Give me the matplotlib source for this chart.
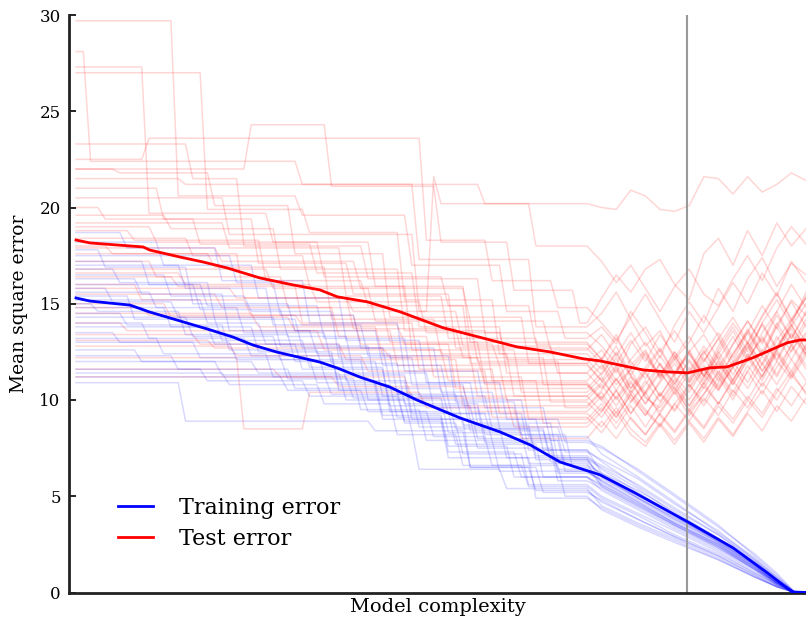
import matplotlib
matplotlib.use("Agg")
import matplotlib.pyplot as plt

plt.rcParams['font.family'] = ['DejaVu Serif']

# ---------------- data ----------------
# mean curves (x = model complexity step, y = mean square error)
train_mean_x = [0, 1.9, 7.4, 10.1, 15.2, 18.4, 21.5, 24.2, 27.5, 33.4, 35.8, 38.9, 43.0, 46.7,
                52.6, 58.1, 62.2, 66.3, 71.8, 76.3, 83.8, 90.0, 94.7, 98.1, 100]
train_mean_y = [15.30, 15.14, 14.93, 14.57, 14.00, 13.64, 13.27, 12.86, 12.49, 11.97, 11.66, 11.19,
                10.67, 10.00, 9.07, 8.34, 7.67, 6.78, 6.11, 5.23, 3.67, 2.32, 1.02, 0.03, 0.0]

test_mean_x = [0, 1.9, 9.2, 10.1, 14.2, 17.4, 20.7, 25.2, 29.7, 33.4, 35.8, 39.9, 44.4, 50.3,
               55.1, 60.4, 64.9, 69.5, 71.8, 77.7, 81.0, 83.8, 86.8, 89.2, 92.7, 97.4, 99.2, 100]
test_mean_y = [18.31, 18.16, 17.95, 17.79, 17.43, 17.17, 16.86, 16.34, 15.98, 15.72, 15.36, 15.10,
               14.58, 13.75, 13.28, 12.76, 12.50, 12.14, 12.03, 11.56, 11.46, 11.41, 11.67, 11.72,
               12.19, 12.97, 13.12, 13.12]

best_complexity = 83.7

# individual simulation runs: start level, (step, new level) changes, tail values
train_start = [18.7, 18.2, 17.8, 17.5, 17.2, 17.0, 16.8, 16.5, 16.3, 16.0, 15.8, 15.6, 15.4, 15.2,
               15.0, 14.8, 14.5, 14.3, 14.0, 13.8, 13.5, 13.2, 13.0, 12.6, 12.3, 12.0, 11.6, 11.2,
               10.9, 11.4]
train_steps = [
    [(6, 17.9), (19, 16.2), (31, 14.0), (44, 11.5), (55, 9.6), (64, 7.9)],
    [(11, 17.0), (24, 15.3), (36, 13.1), (47, 10.9), (58, 9.0), (66, 7.8)],
    [(3, 16.9), (15, 15.0), (29, 13.6), (41, 11.8), (50, 10.0), (61, 8.1)],
    [(21, 16.1), (27, 14.4), (38, 12.7), (49, 10.4), (57, 8.6), (66, 7.3)],
    [(9, 16.0), (17, 14.9), (33, 13.2), (45, 10.8), (53, 9.0), (63, 7.4)],
    [(14, 15.8), (26, 13.9), (39, 12.3), (51, 9.9), (60, 8.2), (66, 6.6)],
    [(5, 16.1), (18, 14.2), (30, 12.7), (42, 10.9), (54, 8.8), (65, 6.9)],
    [(12, 15.4), (23, 14.6), (35, 12.2), (46, 10.2), (56, 8.5), (64, 7.0)],
    [(8, 15.5), (20, 13.6), (32, 12.4), (43, 10.3), (52, 8.7), (62, 7.1)],
    [(16, 14.7), (28, 13.3), (37, 11.4), (48, 9.6), (55, 7.8), (65, 6.2)],
    [(4, 15.1), (13, 14.3), (27, 12.8), (40, 10.6), (50, 9.3), (61, 7.4)],
    [(10, 14.8), (22, 13.5), (34, 11.9), (44, 9.8), (55, 8.2), (67, 6.5)],
    [(7, 14.2), (19, 13.1), (31, 11.7), (42, 9.4), (51, 7.7), (63, 6.0)],
    [(17, 14.0), (25, 12.9), (36, 11.0), (45, 9.0), (54, 7.5), (65, 5.8)],
    [(2, 14.6), (14, 13.4), (29, 12.0), (41, 10.2), (53, 8.4), (64, 6.8)],
    [(12, 13.8), (24, 12.5), (35, 10.5), (44, 8.8), (52, 7.2), (61, 5.6)],
    [(6, 13.9), (20, 12.6), (33, 11.3), (45, 9.3), (56, 7.9), (66, 6.3)],
    [(15, 13.3), (27, 12.1), (39, 10.0), (51, 8.5), (62, 6.9)],
    [(9, 13.2), (23, 12.3), (35, 10.8), (43, 9.1), (50, 7.3), (60, 6.0)],
    [(18, 12.9), (30, 11.6), (42, 9.7), (54, 8.0), (65, 6.4)],
    [(5, 13.0), (16, 12.2), (28, 11.1), (38, 9.5), (47, 7.9), (57, 6.3)],
    [(11, 12.4), (26, 11.2), (37, 10.1), (50, 8.3), (61, 6.7)],
    [(21, 12.1), (32, 10.9), (41, 9.2), (50, 7.6), (59, 6.0)],
    [(8, 12.0), (19, 11.3), (34, 10.3), (46, 8.6), (58, 7.0)],
    [(13, 11.6), (29, 10.6), (41, 9.0), (53, 6.5), (63, 5.2)],
    [(24, 11.4), (36, 10.0), (45, 8.4), (53, 6.5), (62, 5.3)],
    [(17, 11.0), (31, 10.2), (44, 8.9), (50, 7.0), (62, 4.9)],
    [(28, 10.5), (39, 9.4), (48, 8.1), (56, 6.6), (66, 5.0)],
    [(14, 8.9), (40, 8.4), (46, 6.4), (58, 5.4)],
    [(20, 10.8), (33, 9.8), (43, 8.2), (52, 6.6), (61, 5.5)],
]
train_tail_start = 70
train_tail_x = [72, 77, 82, 88, 93, 96, 98.5, 100]
train_tail = [
    [7.6, 6.3, 5.0, 3.4, 2.0, 1.0, 0, 0],
    [7.5, 6.4, 5.1, 3.5, 1.9, 0.9, 0, 0],
    [7.2, 6.0, 4.7, 3.1, 1.8, 0.8, 0, 0],
    [6.9, 5.9, 4.6, 3.2, 1.7, 0.8, 0, 0],
    [6.8, 5.5, 4.3, 3.0, 1.6, 0.7, 0, 0],
    [6.2, 5.3, 4.2, 2.8, 1.6, 0.7, 0, 0],
    [6.5, 5.4, 4.1, 2.8, 1.5, 0.6, 0, 0],
    [6.6, 5.6, 4.4, 3.0, 1.7, 0.7, 0, 0],
    [6.4, 5.2, 4.0, 2.7, 1.4, 0.6, 0, 0],
    [5.9, 4.9, 3.9, 2.7, 1.5, 0.6, 0, 0],
    [6.2, 5.1, 4.0, 2.6, 1.4, 0.5, 0, 0],
    [6.0, 5.0, 3.9, 2.7, 1.5, 0.6, 0, 0],
    [5.6, 4.6, 3.6, 2.5, 1.3, 0.5, 0, 0],
    [5.4, 4.4, 3.4, 2.3, 1.2, 0.4, 0, 0],
    [6.1, 4.9, 3.8, 2.6, 1.4, 0.5, 0, 0],
    [5.0, 4.1, 3.2, 2.1, 1.0, 0.4, 0, 0],
    [5.8, 4.7, 3.6, 2.4, 1.3, 0.5, 0, 0],
    [6.0, 4.9, 3.8, 2.6, 1.4, 0.5, 0, 0],
    [5.5, 4.5, 3.5, 2.4, 1.2, 0.5, 0, 0],
    [5.6, 4.6, 3.5, 2.4, 1.2, 0.5, 0, 0],
    [5.8, 4.8, 3.7, 2.5, 1.3, 0.5, 0, 0],
    [5.5, 4.5, 3.5, 2.3, 1.2, 0.4, 0, 0],
    [5.3, 4.3, 3.3, 2.2, 1.1, 0.4, 0, 0],
    [5.7, 4.7, 3.6, 2.5, 1.3, 0.5, 0, 0],
    [4.8, 3.8, 2.9, 1.9, 0.9, 0.3, 0, 0],
    [4.7, 3.8, 2.9, 1.9, 0.9, 0.3, 0, 0],
    [4.4, 3.5, 2.7, 1.7, 0.8, 0.3, 0, 0],
    [4.3, 3.4, 2.6, 1.7, 0.8, 0.3, 0, 0],
    [4.5, 3.6, 2.8, 1.8, 0.8, 0.3, 0, 0],
    [4.9, 4.0, 3.0, 2.0, 1.0, 0.4, 0, 0],
]

test_start = [29.7, 28.1, 27.3, 27.0, 23.3, 22.0, 22.5, 22.0, 21.5, 21.0, 20.5, 20.0, 19.6, 19.2,
              18.8, 18.4, 18.0, 17.6, 17.2, 16.8, 16.4, 16.0, 15.5, 15.0, 14.5, 14.0, 13.4, 12.8,
              12.2, 11.6, 11.2, 19.0, 17.9, 16.6, 15.8, 14.8, 13.1]
test_steps = [
    [(13, 20.6), (30, 19.6), (45, 17.0), (58, 14.6), (66, 13.2)],
    [(1, 22.4), (30, 21.2), (46, 17.3), (62, 13.8)],
    [(9, 19.7), (26, 18.2), (40, 15.9), (53, 13.0)],
    [(17, 19.9), (31, 18.7), (44, 15.2), (57, 12.4)],
    [(15, 21.5), (22, 18.0), (39, 16.3), (55, 13.5)],
    [(23, 24.3), (34, 21.1), (49, 18.2), (59, 15.7), (68, 14.0)],
    [(9, 23.6), (47, 18.3), (56, 16.2), (65, 14.8)],
    [(5, 21.8), (18, 20.1), (29, 17.6), (42, 14.3), (61, 11.9)],
    [(14, 21.2), (55, 20.2)],
    [(11, 19.4), (24, 17.1), (37, 15.5), (51, 12.7)],
    [(20, 18.6), (46, 14.6), (48, 21.6), (49, 20.2), (62, 18.0)],
    [(3, 19.4), (16, 18.1), (32, 16.6), (46, 13.8), (58, 11.4)],
    [(12, 18.9), (27, 16.8), (44, 13.6), (56, 11.0)],
    [(20, 17.9), (36, 15.4), (50, 13.2), (63, 10.8)],
    [(7, 18.3), (25, 16.2), (39, 14.9), (53, 11.9)],
    [(15, 17.5), (31, 15.9), (45, 12.6), (60, 10.4)],
    [(4, 17.6), (22, 15.3), (37, 13.7), (52, 12.2), (64, 9.9)],
    [(18, 16.9), (34, 14.2), (49, 12.4), (59, 10.2)],
    [(10, 16.4), (28, 14.8), (42, 13.0), (55, 10.9)],
    [(26, 15.8), (40, 14.1), (54, 12.0), (66, 9.6)],
    [(13, 15.9), (30, 14.0), (46, 11.6), (57, 9.3)],
    [(8, 15.2), (23, 14.4), (38, 12.9), (51, 10.6)],
    [(19, 14.8), (35, 13.3), (48, 11.2), (61, 9.0)],
    [(12, 14.3), (29, 13.6), (43, 11.8), (58, 10.0)],
    [(24, 13.8), (41, 12.3), (54, 10.2)],
    [(6, 13.6), (33, 12.6), (50, 11.0), (63, 8.8)],
    [(16, 12.9), (36, 12.1), (52, 9.7)],
    [(21, 12.3), (39, 11.5), (56, 9.1)],
    [(22, 8.5), (31, 10.4), (47, 9.6), (60, 8.0)],
    [(27, 11.2), (45, 10.1), (59, 8.6)],
    [(35, 10.7), (53, 9.4)],
    [(10, 18.2), (33, 16.4), (50, 14.9), (62, 12.9)],
    [(19, 17.2), (38, 15.8), (53, 14.1), (64, 12.6)],
    [(14, 16.0), (32, 15.1), (47, 13.5), (58, 12.1)],
    [(21, 15.3), (37, 14.6), (52, 12.8), (65, 11.4)],
    [(9, 14.4), (30, 13.9), (44, 12.9), (57, 11.8)],
    [(18, 12.7), (42, 12.2), (55, 10.8)],
]
test_tail_start = 70
test_tail_x = [72, 74, 76, 78, 80, 82, 84, 86, 88, 90, 92, 94, 96, 98, 100]
test_tail = [
    [13.8, 12.9, 14.6, 13.5, 12.2, 13.9, 15.1, 14.0, 15.8, 14.6, 16.3, 17.4, 15.9, 17.1, 16.5],
    [14.5, 15.6, 14.2, 12.8, 13.6, 12.1, 13.0, 14.4, 13.3, 12.0, 13.5, 14.9, 13.7, 15.2, 14.4],
    [12.1, 13.4, 11.8, 12.6, 11.2, 12.5, 10.9, 12.0, 13.2, 11.7, 12.9, 11.5, 12.8, 13.9, 12.6],
    [11.6, 12.8, 11.3, 10.4, 11.9, 10.8, 12.1, 11.0, 12.4, 13.6, 12.2, 14.0, 12.7, 13.8, 15.0],
    [12.8, 11.9, 13.1, 12.0, 13.4, 12.3, 11.1, 12.6, 11.4, 12.9, 14.1, 13.0, 14.6, 16.0, 14.8],
    [15.3, 16.5, 15.6, 16.8, 17.3, 16.0, 15.2, 17.6, 18.4, 17.0, 18.8, 17.5, 19.2, 18.0, 18.9],
    [14.0, 13.1, 14.3, 15.5, 14.2, 13.0, 14.6, 13.5, 14.8, 16.1, 15.0, 16.6, 15.4, 17.2, 16.1],
    [11.0, 12.2, 10.6, 11.5, 10.2, 11.4, 12.6, 11.3, 10.5, 11.8, 13.0, 11.9, 13.3, 12.1, 13.4],
    [20.0, 19.9, 20.9, 20.6, 19.9, 19.8, 20.1, 21.6, 21.5, 20.7, 21.6, 20.8, 21.2, 21.8, 21.4],
    [11.9, 10.8, 11.6, 10.1, 9.6, 10.7, 9.4, 10.3, 11.5, 10.4, 11.8, 10.7, 12.0, 11.1, 12.3],
    [17.2, 16.1, 17.0, 15.8, 14.6, 15.9, 16.8, 15.5, 14.9, 16.3, 17.5, 16.2, 17.9, 19.0, 18.1],
    [10.6, 11.7, 10.3, 9.2, 10.4, 9.5, 10.8, 9.9, 11.2, 10.0, 11.5, 12.6, 11.3, 12.9, 11.8],
    [11.8, 10.5, 11.6, 12.5, 11.2, 12.3, 11.0, 12.4, 13.5, 12.2, 13.7, 12.5, 14.0, 12.8, 14.2],
    [10.0, 9.1, 10.3, 9.4, 8.6, 9.8, 8.9, 10.1, 9.2, 10.5, 9.6, 10.9, 10.0, 11.3, 10.4],
    [12.6, 11.4, 12.9, 13.8, 12.5, 13.6, 12.4, 11.3, 12.8, 14.0, 12.9, 14.3, 15.5, 14.1, 15.3],
    [11.2, 10.0, 11.0, 9.8, 10.9, 11.9, 10.7, 11.8, 10.6, 11.7, 12.8, 11.5, 12.6, 13.7, 12.4],
    [9.1, 10.2, 9.0, 8.2, 9.3, 8.4, 9.5, 8.6, 9.9, 9.0, 10.2, 9.3, 10.6, 9.7, 10.9],
    [10.9, 11.8, 10.6, 11.7, 12.7, 11.4, 12.5, 13.4, 12.1, 13.3, 12.0, 13.5, 14.6, 13.2, 14.5],
    [10.1, 11.1, 9.9, 10.8, 11.9, 10.6, 9.7, 10.9, 12.0, 10.8, 12.1, 13.2, 12.0, 13.4, 12.3],
    [10.4, 9.3, 10.5, 9.5, 8.7, 9.8, 10.8, 9.7, 10.9, 12.0, 10.9, 12.3, 11.2, 12.6, 13.5],
    [8.6, 9.6, 8.5, 7.8, 8.8, 7.9, 8.9, 8.0, 9.1, 8.2, 9.4, 10.5, 9.4, 10.7, 9.8],
    [11.4, 12.5, 11.3, 12.4, 11.1, 12.2, 13.3, 12.0, 13.2, 14.3, 13.0, 14.4, 15.6, 14.2, 15.4],
    [9.8, 8.8, 9.9, 11.0, 9.9, 11.1, 10.0, 11.2, 12.3, 11.0, 12.4, 11.2, 12.7, 13.9, 12.6],
    [10.8, 9.7, 10.9, 9.8, 11.0, 12.1, 10.9, 12.2, 11.0, 12.4, 13.5, 12.3, 13.9, 15.1, 13.8],
    [9.4, 10.5, 9.3, 10.4, 9.2, 8.3, 9.4, 8.5, 9.7, 8.8, 10.0, 9.1, 10.4, 11.5, 10.3],
    [9.6, 8.5, 9.7, 8.6, 9.8, 10.9, 9.7, 10.9, 9.8, 11.1, 12.2, 11.0, 12.5, 11.3, 12.8],
    [10.5, 11.6, 10.4, 11.5, 12.6, 11.3, 12.5, 11.2, 12.6, 13.8, 12.5, 14.0, 15.2, 13.9, 15.6],
    [8.3, 9.4, 8.2, 7.6, 8.7, 7.7, 8.8, 7.8, 9.0, 8.1, 9.3, 8.4, 9.7, 8.9, 10.1],
    [8.9, 8.0, 9.1, 8.2, 9.3, 10.4, 9.2, 10.3, 11.4, 10.2, 11.5, 10.3, 11.7, 12.8, 11.6],
    [9.4, 10.5, 9.3, 10.4, 11.5, 10.3, 11.4, 12.5, 11.2, 12.4, 13.6, 12.3, 13.8, 12.5, 14.0],
    [10.2, 9.1, 10.3, 11.4, 10.2, 11.3, 12.4, 11.2, 12.5, 11.3, 12.7, 13.9, 12.6, 14.1, 15.3],
    [12.1, 13.2, 12.0, 11.1, 12.3, 11.2, 10.4, 11.6, 10.7, 11.9, 13.0, 11.8, 13.1, 14.2, 13.0],
    [13.4, 12.3, 13.5, 12.2, 11.3, 12.5, 11.5, 12.8, 11.7, 12.9, 14.1, 12.9, 14.4, 13.2, 14.6],
    [11.3, 12.4, 11.2, 10.3, 11.4, 10.5, 11.7, 10.6, 11.9, 10.8, 12.1, 13.3, 12.1, 13.5, 12.4],
    [12.2, 11.0, 12.1, 13.0, 11.8, 10.9, 12.0, 10.8, 12.1, 11.0, 12.3, 11.2, 12.6, 11.5, 12.9],
    [11.0, 10.1, 11.2, 10.2, 9.4, 10.5, 9.5, 10.7, 9.8, 11.0, 10.0, 11.3, 12.4, 11.2, 12.5],
    [10.0, 11.1, 10.1, 9.2, 10.3, 9.4, 10.6, 11.6, 10.5, 11.7, 10.6, 11.9, 10.8, 12.1, 11.0],
]

y_ticks = [0, 5, 10, 15, 20, 25, 30]
labels = ["Training error", "Test error"]


def run_path(start, steps, tail_start, tail_x, tail_y):
    xs, ys, lv = [0], [start], start
    for xd, nl in steps:
        xs += [xd, xd + 1]
        ys += [lv, nl]
        lv = nl
    xs.append(tail_start)
    ys.append(lv)
    return xs + list(tail_x), ys + list(tail_y)


fig = plt.figure(figsize=(8.06, 6.24), dpi=100)
ax = fig.add_axes([69 / 806, (624 - 592.5) / 624, 737 / 806, 577.5 / 624])

for s, st, tl in zip(test_start, test_steps, test_tail):
    xs, ys = run_path(s, st, test_tail_start, test_tail_x, tl)
    ax.plot(xs, ys, color=(1, 0, 0), alpha=0.16, lw=1.1, zorder=1)
for s, st, tl in zip(train_start, train_steps, train_tail):
    xs, ys = run_path(s, st, train_tail_start, train_tail_x, tl)
    ax.plot(xs, ys, color=(0, 0, 1), alpha=0.15, lw=1.1, zorder=1)

ax.axvline(best_complexity, color='#999999', lw=1.5, zorder=2)

l1, = ax.plot(train_mean_x, train_mean_y, color=(0, 0, 1), lw=2.0, zorder=3)
l2, = ax.plot(test_mean_x, test_mean_y, color=(1, 0, 0), lw=2.0, zorder=3)

ax.set_xlim(-0.96, 100)
ax.set_ylim(0, 30)
ax.set_yticks(y_ticks)
ax.set_xticks([])
ax.tick_params(axis='y', direction='in', length=5, width=1.2, labelsize=12, pad=6)
for side in ['top', 'right']:
    ax.spines[side].set_visible(False)
for side in ['left', 'bottom']:
    ax.spines[side].set_linewidth(2.0)
    ax.spines[side].set_color('#222222')

ax.set_ylabel("Mean square error", fontsize=13.5, labelpad=8)
ax.set_xlabel("Model complexity", fontsize=14, labelpad=4)

ax.legend([l1, l2], labels, frameon=False, fontsize=16, loc='upper left',
          bbox_to_anchor=(0.0665, 0.165), borderaxespad=0, borderpad=0,
          handlelength=1.56, handletextpad=1.2, labelspacing=0.4)

fig.savefig("out.png", dpi=100)
